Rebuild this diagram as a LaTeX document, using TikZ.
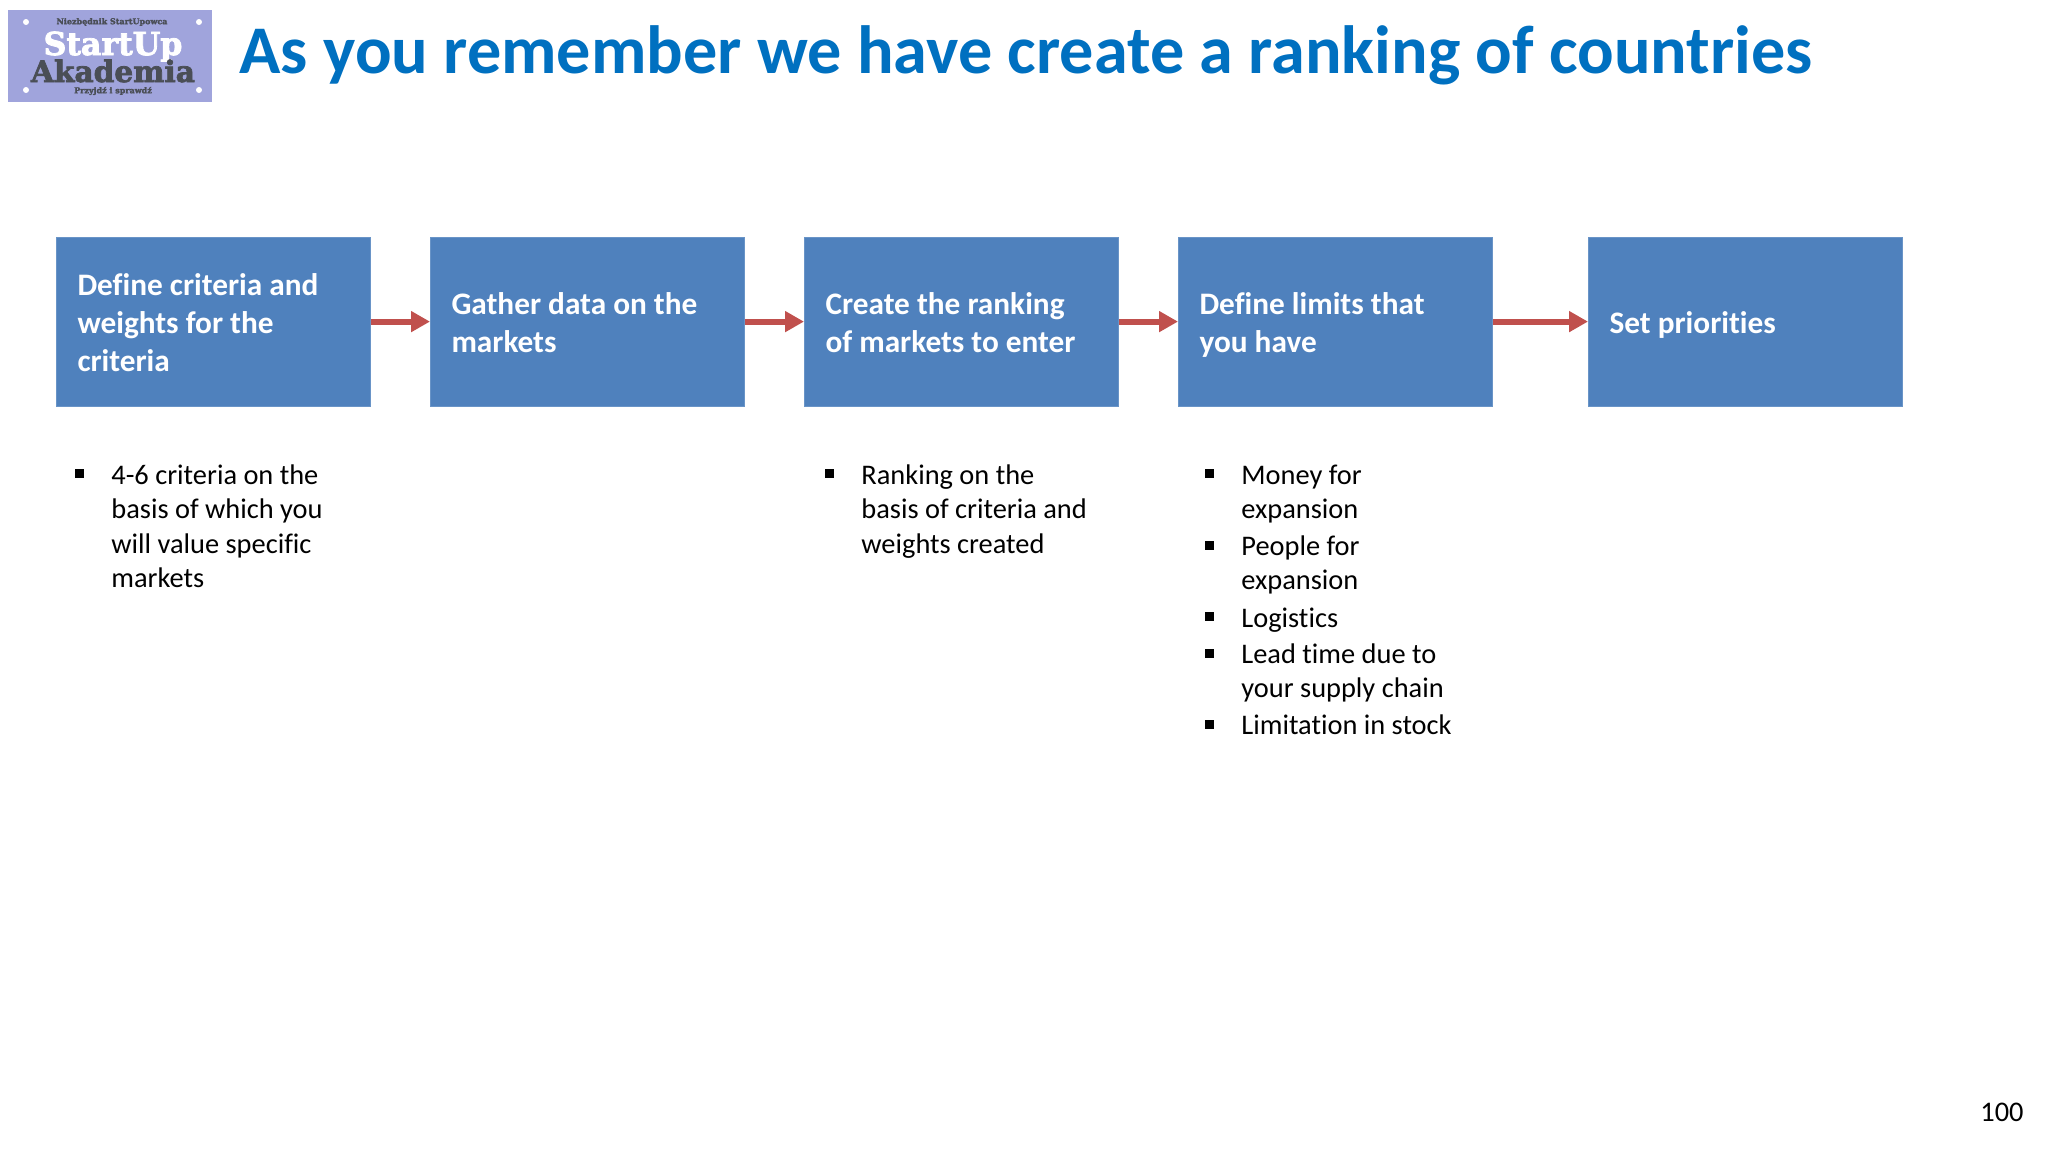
\documentclass[tikz,border=0pt]{standalone}
\usepackage{fontspec}
\setmainfont[Ligatures=NoCommon]{Carlito}
\newfontfamily\logofont[BoldFeatures={FakeBold=2.5}]{DejaVu Serif}
\usetikzlibrary{arrows.meta}
\definecolor{boxblue}{HTML}{4F81BD}
\definecolor{arrowred}{HTML}{C0504D}
\definecolor{titleblue}{HTML}{0070C0}
\definecolor{logobg}{HTML}{A0A4DC}
\definecolor{logodark}{HTML}{4A4E56}
\newcommand{\boxline}[1]{\hbox{\strut #1}}
\newcommand{\boxtext}[1]{\hbox to 136pt{\vbox{\vskip 4.4pt #1}\hss}}
\tikzset{
 stepbox/.style={fill=boxblue,draw=boxblue!85!white,line width=0.3pt,minimum width=157.2pt,minimum height=84.3pt,inner xsep=10.5pt,inner ysep=0pt,text=white,font=\fontsize{15.65}{19}\selectfont\bfseries},
 flow/.style={draw=arrowred,line width=3pt,-{Triangle[length=9.5pt,width=10pt,fill=arrowred]},shorten >=0pt},
 bodytext/.style={anchor=base west,inner sep=0pt,align=left,text=black,font=\fontsize{14.2}{17.25}\selectfont},
 bulletmark/.style={fill=black,inner sep=0pt,minimum size=4.5pt},
 logosmall/.style={text=logodark,inner sep=0pt,font=\logofont\bfseries\fontsize{4}{4}\selectfont},
 logodot/.style={circle,fill=white,inner sep=0pt,minimum size=3pt}
}
\begin{document}
\begin{tikzpicture}[x=0.5pt,y=-0.5pt]
\useasboundingbox (0,0) rectangle (2048,1152);
\fill[white] (0,0) rectangle (2048,1152);
% logo
\node[fill=logobg,inner sep=0pt,minimum width=102pt,minimum height=46pt,anchor=north west] (logo) at (8,10) {};
\node[logosmall] (logotop) at (112,22) {Niezbędnik StartUpowca};
\node[text=white,inner sep=0pt,text depth=0pt,anchor=base,font=\logofont\bfseries\fontsize{15.8}{17}\selectfont] (logoa) at (113,55) {StartUp};
\node[text=logodark,inner sep=0pt,anchor=base,font=\logofont\bfseries\fontsize{14.8}{16}\selectfont] (logob) at (113,82) {Akademia};
\node[logosmall] (logobot) at (113,91) {Przyjdź i sprawdź};
\node[logodot] (d1) at (26,22) {};
\node[logodot] (d2) at (199,22) {};
\node[logodot] (d3) at (26,90) {};
\node[logodot] (d4) at (199,90) {};
% title
\node[anchor=base west,inner sep=0pt,text=titleblue,font=\fontsize{34.1}{40}\selectfont\bfseries] (title) at (239,73) {As you remember we have create a ranking of countries};
% boxes
\node[stepbox,anchor=north west] (b1) at (56,237) {\boxtext{\boxline{Define criteria and}\boxline{weights for the}\boxline{criteria}}};
\node[stepbox,anchor=north west] (b2) at (430,237) {\boxtext{\boxline{Gather data on the}\boxline{markets}}};
\node[stepbox,anchor=north west] (b3) at (804,237) {\boxtext{\boxline{Create the ranking}\boxline{of markets to enter}}};
\node[stepbox,anchor=north west] (b4) at (1178,237) {\boxtext{\boxline{Define limits that}\boxline{you have}}};
\node[stepbox,anchor=north west] (b5) at (1588,237) {\boxtext{\boxline{Set priorities}}};
\foreach \a/\b in {b1/b2,b2/b3,b3/b4,b4/b5}{\draw[flow] (\a) -- (\b);}
% list 1
\node[bulletmark] (m1) at (79,473) {};
\node[bodytext] (t1) at (111,484) {\vtop{\hbox{4-6 criteria on the}\hbox{basis of which you}\hbox{will value specific}\hbox{markets}}};
% list 3
\node[bulletmark] (m3) at (829,473) {};
\node[bodytext] (t3) at (861,484) {\vtop{\hbox{Ranking on the}\hbox{basis of criteria and}\hbox{weights created}}};
% list 4
\node[bulletmark] (m4a) at (1209,473) {};
\node[bodytext] (t4a) at (1241,484) {\vtop{\hbox{Money for}\hbox{expansion}}};
\node[bulletmark] (m4b) at (1209,545) {};
\node[bodytext] (t4b) at (1241,555) {\vtop{\hbox{People for}\hbox{expansion}}};
\node[bulletmark] (m4c) at (1209,616) {};
\node[bodytext] (t4c) at (1241,627) {Logistics};
\node[bulletmark] (m4d) at (1209,653) {};
\node[bodytext] (t4d) at (1241,663) {\vtop{\hbox{Lead time due to}\hbox{your supply chain}}};
\node[bulletmark] (m4e) at (1209,724) {};
\node[bodytext] (t4e) at (1241,734) {Limitation in stock};
% page number
\node[bodytext] (page) at (1980,1121) {100};
\end{tikzpicture}
\end{document}
